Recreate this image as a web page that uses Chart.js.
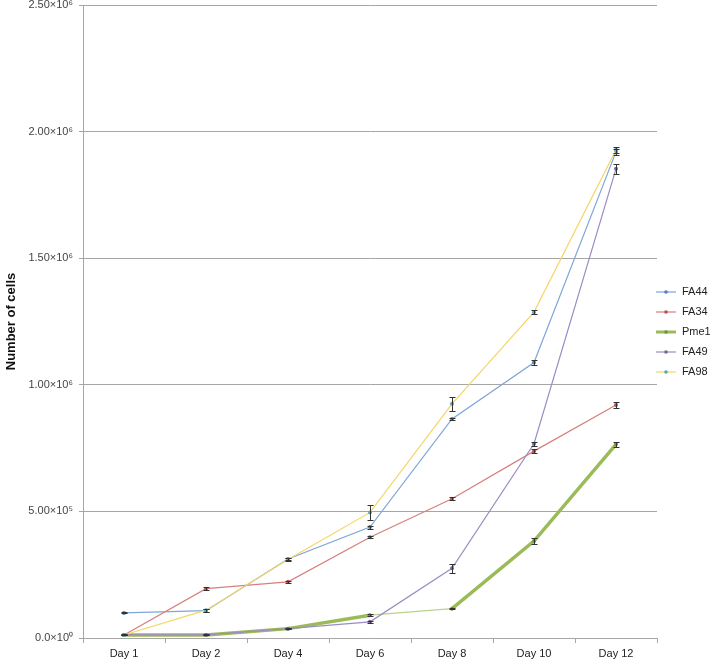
<!DOCTYPE html>
<html>
<head>
<meta charset="utf-8">
<script src="https://cdn.jsdelivr.net/npm/chart.js@4.4.1/dist/chart.umd.min.js"></script>
<style>
html,body{margin:0;padding:0;background:#fff;}
#wrap{position:relative;width:711px;height:661px;}
</style>
</head>
<body>
<div id="wrap"><canvas id="c" width="711" height="661"></canvas></div>
<script>
const categories = ["Day 1","Day 2","Day 4","Day 6","Day 8","Day 10","Day 12"];
const seriesNames = ["FA44","FA34","Pme1","FA49","FA98"];
const fa44 = [99000, 108000, 312000, 438000, 865000, 1088000, 1920000];
const fa34 = [12000, 195000, 222000, 398000, 550000, 738000, 920000];
const pme1 = [12000, 12000, 37000, 90000, 116000, 383000, 765000];
const fa49 = [12000, 12000, 37000, 64000, 275000, 767000, 1853000];
const fa98 = [12000, 110000, 310000, 496000, 925000, 1287000, 1928000];
const fa44Err = [2000, 6000, 4000, 6000, 3000, 10000, 12000];
const fa34Err = [2000, 7000, 5000, 4000, 5000, 7000, 13000];
const pme1Err = [1000, 2000, 3000, 4000, 2000, 10000, 9000];
const fa49Err = [1000, 2000, 3000, 4000, 18000, 9000, 20000];
const fa98Err = [2000, 6000, 5000, 28000, 28000, 9000, 12000];
const yTickValues = [0, 500000, 1000000, 1500000, 2000000, 2500000];
const yTickLabels = ["0.0×10⁰","5.00×10⁵","1.00×10⁶","1.50×10⁶","2.00×10⁶","2.50×10⁶"];

const FONT = "'Liberation Sans', Arial, sans-serif";
const colors = ["#7ea6d8","#d6807e","#9bbb59","#9c8bc4","#f5d565"];
const pointColors = ["#4f81bd","#c0504d","#76923c","#8064a2","#4bacc6"];
const values = [fa44, fa34, pme1, fa49, fa98];
const errors = [fa44Err, fa34Err, pme1Err, fa49Err, fa98Err];
const widths = [1.2, 1.2, 3.5, 1.2, 1.2];

const datasets = seriesNames.map((n, i) => {
  const ds = {
    label: n,
    data: values[i],
    errors: errors[i],
    borderColor: colors[i],
    backgroundColor: pointColors[i],
    borderWidth: widths[i],
    pointRadius: 2,
    pointBorderWidth: 0,
    pointBackgroundColor: pointColors[i],
    tension: 0,
    order: -i,
    fill: false
  };
  if (n === "Pme1") {
    ds.segment = {
      borderWidth: ctx => ctx.p0DataIndex === 3 ? 1.2 : 3.5,
      borderColor: ctx => ctx.p0DataIndex === 3 ? "#b9d38a" : "#9bbb59"
    };
  }
  return ds;
});

const errorBars = {
  id: "errorBars",
  afterDatasetsDraw(chart) {
    const ctx = chart.ctx;
    const y = chart.scales.y;
    ctx.save();
    ctx.strokeStyle = "#333";
    ctx.lineWidth = 1;
    chart.data.datasets.forEach((ds, di) => {
      const meta = chart.getDatasetMeta(di);
      meta.data.forEach((pt, i) => {
        const v = ds.data[i], e = ds.errors[i];
        const x = Math.round(pt.x) + 0.5;
        const yt = Math.round(y.getPixelForValue(v + e)) + 0.5;
        const yb = Math.round(y.getPixelForValue(v - e)) + 0.5;
        ctx.beginPath();
        ctx.moveTo(x, yt); ctx.lineTo(x, yb);
        ctx.moveTo(x - 3, yt); ctx.lineTo(x + 3, yt);
        ctx.moveTo(x - 3, yb); ctx.lineTo(x + 3, yb);
        ctx.stroke();
      });
    });
    ctx.restore();
  }
};

const customLegend = {
  id: "customLegend",
  afterDraw(chart) {
    const ctx = chart.ctx;
    ctx.save();
    ctx.font = "11px " + FONT;
    ctx.textBaseline = "middle";
    chart.data.datasets.forEach((ds, i) => {
      const yy = 292 + i * 20;
      ctx.strokeStyle = ds.borderColor;
      ctx.lineWidth = ds.label === "Pme1" ? 3 : 1.2;
      ctx.beginPath();
      ctx.moveTo(656, yy); ctx.lineTo(676, yy);
      ctx.stroke();
      ctx.fillStyle = ds.backgroundColor;
      ctx.beginPath();
      ctx.arc(666, yy, 1.8, 0, Math.PI * 2);
      ctx.fill();
      ctx.fillStyle = "#222";
      ctx.fillText(ds.label, 682, yy);
    });
    ctx.restore();
  }
};

new Chart(document.getElementById("c"), {
  type: "line",
  data: { labels: categories, datasets },
  options: {
    responsive: false,
    animation: false,
    devicePixelRatio: 1,
    layout: { padding: { top: 0, right: 54, bottom: 0, left: 0 } },
    plugins: { legend: { display: false }, tooltip: { enabled: false } },
    scales: {
      x: {
        offset: true,
        grid: { display: true, drawOnChartArea: false, drawTicks: true, tickLength: 5, offset: true, color: "#a6a6a6" },
        border: { display: true, color: "#a6a6a6", width: 1 },
        ticks: { font: { family: FONT, size: 11 }, color: "#222", padding: 4, maxRotation: 0 },
        afterFit(s) { s.height = 23; s.paddingLeft = 0; s.paddingRight = 0; }
      },
      y: {
        min: 0, max: 2500000,
        afterBuildTicks(s) { s.ticks = yTickValues.map(v => ({ value: v })); },
        grid: { color: "#a6a6a6", tickLength: 4, drawTicks: true },
        border: { display: true, color: "#a6a6a6", width: 1 },
        ticks: {
          font: { family: FONT, size: 11 }, color: "#444", padding: 6,
          callback: (v) => { const k = yTickValues.indexOf(v); return k >= 0 ? yTickLabels[k] : ""; }
        },
        title: { display: true, text: "Number of cells", font: { family: FONT, size: 13, weight: "bold" }, color: "#111", padding: { top: 4, bottom: 0 } },
        afterFit(s) { s.width = 83; s.paddingTop = 5; s.paddingBottom = 0; }
      }
    }
  },
  plugins: [errorBars, customLegend]
});
</script>
</body>
</html>
